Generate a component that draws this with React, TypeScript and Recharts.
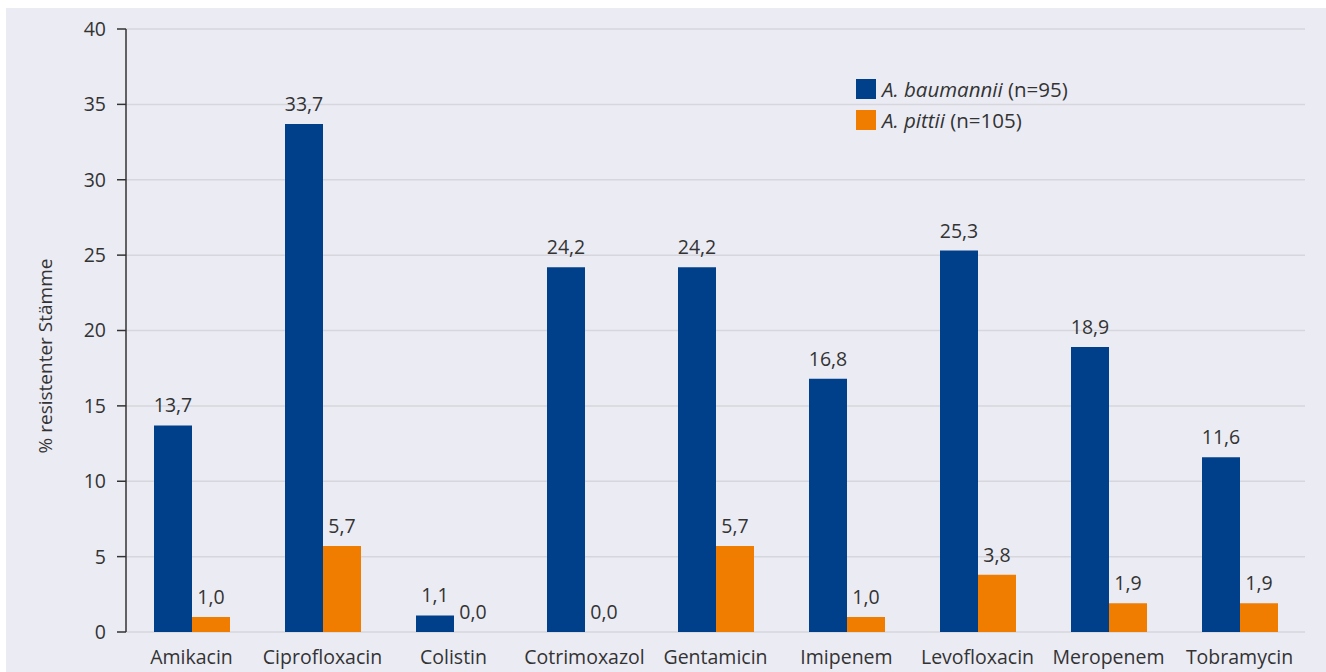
import { BarChart, Bar, XAxis, YAxis, CartesianGrid, LabelList } from "recharts";

const categories = [
    "Amikacin", "Ciprofloxacin", "Colistin", "Cotrimoxazol", "Gentamicin",
    "Imipenem", "Levofloxacin", "Meropenem", "Tobramycin",
];
const baumannii = [13.7, 33.7, 1.1, 24.2, 24.2, 16.8, 25.3, 18.9, 11.6];
const pittii = [1.0, 5.7, 0.0, 0.0, 5.7, 1.0, 3.8, 1.9, 1.9];
const yTicks = [0, 5, 10, 15, 20, 25, 30, 35, 40];
const boundaryTicks = [0, 1, 2, 3, 4, 5, 6, 7, 8, 9];

const BLUE = "#00408a";
const ORANGE = "#f07c00";
const TEXT = "#333333";
const FONT = "'Open Sans', 'Noto Sans', sans-serif";
const FS = 19.5;

const data = categories.map((name, i) => ({
    name,
    baumannii: baumannii[i],
    pittii: pittii[i],
}));

const fmt = (v: number) => v.toFixed(1).replace(".", ",");

function LegendBox() {
    const rows = [
        { color: BLUE, species: "A. baumannii", n: "(n=95)" },
        { color: ORANGE, species: "A. pittii", n: "(n=105)" },
    ];
    return (
        <div style={{ position: "absolute", left: 850, top: 65, fontFamily: FONT, fontSize: 20.5, color: TEXT }}>
            {rows.map((r) => (
                <div key={r.species} style={{ display: "flex", alignItems: "center", height: 31 }}>
                    <span style={{ width: 20, height: 20, background: r.color, marginRight: 6 }} />
                    <span>
                        <i>{r.species}</i> {r.n}
                    </span>
                </div>
            ))}
        </div>
    );
}

export default function App() {
    return (
        <div style={{ position: "absolute", left: 6, top: 8, width: 1320, height: 664, background: "#ebebf4" }}>
            <BarChart
                width={1320}
                height={664}
                data={data}
                margin={{ top: 21, right: 21, left: 0, bottom: 0 }}
                barCategoryGap={27}
                barGap={0}
                style={{ fontFamily: FONT }}
            >
                <CartesianGrid vertical={false} stroke="#d6d6dc" strokeWidth={1.5} />
                <XAxis
                    xAxisId="b"
                    type="number"
                    domain={[0, 9]}
                    ticks={boundaryTicks}
                    height={0}
                    tickFormatter={() => ""}
                    tickSize={9}
                    axisLine={{ stroke: TEXT, strokeWidth: 1.5 }}
                    tickLine={{ stroke: TEXT, strokeWidth: 1.5 }}
                />
                <XAxis
                    dataKey="name"
                    height={40}
                    axisLine={false}
                    tickLine={false}
                    tickSize={0}
                    tickMargin={18}
                    tick={{ fill: TEXT, fontSize: FS }}
                    interval={0}
                />
                <YAxis
                    width={120}
                    domain={[0, 40]}
                    ticks={yTicks}
                    tickSize={9}
                    tickMargin={11}
                    axisLine={{ stroke: TEXT, strokeWidth: 1.5 }}
                    tickLine={{ stroke: TEXT, strokeWidth: 1.5 }}
                    tick={{ fill: TEXT, fontSize: FS }}
                    label={{
                        content: () => (
                            <text
                                x={39}
                                y={348}
                                transform="rotate(-90 39 348)"
                                textAnchor="middle"
                                dominantBaseline="central"
                                fill={TEXT}
                                fontSize={19}
                                fontFamily={FONT}
                            >
                                % resistenter Stämme
                            </text>
                        ),
                    }}
                />
                <Bar dataKey="baumannii" fill={BLUE} barSize={38} minPointSize={0.01} isAnimationActive={false}>
                    <LabelList dataKey="baumannii" position="top" offset={13} formatter={fmt} fill={TEXT} fontSize={FS} />
                </Bar>
                <Bar dataKey="pittii" fill={ORANGE} barSize={38} minPointSize={0.01} isAnimationActive={false}>
                    <LabelList dataKey="pittii" position="top" offset={13} formatter={fmt} fill={TEXT} fontSize={FS} />
                </Bar>
            </BarChart>
            <LegendBox />
        </div>
    );
}
